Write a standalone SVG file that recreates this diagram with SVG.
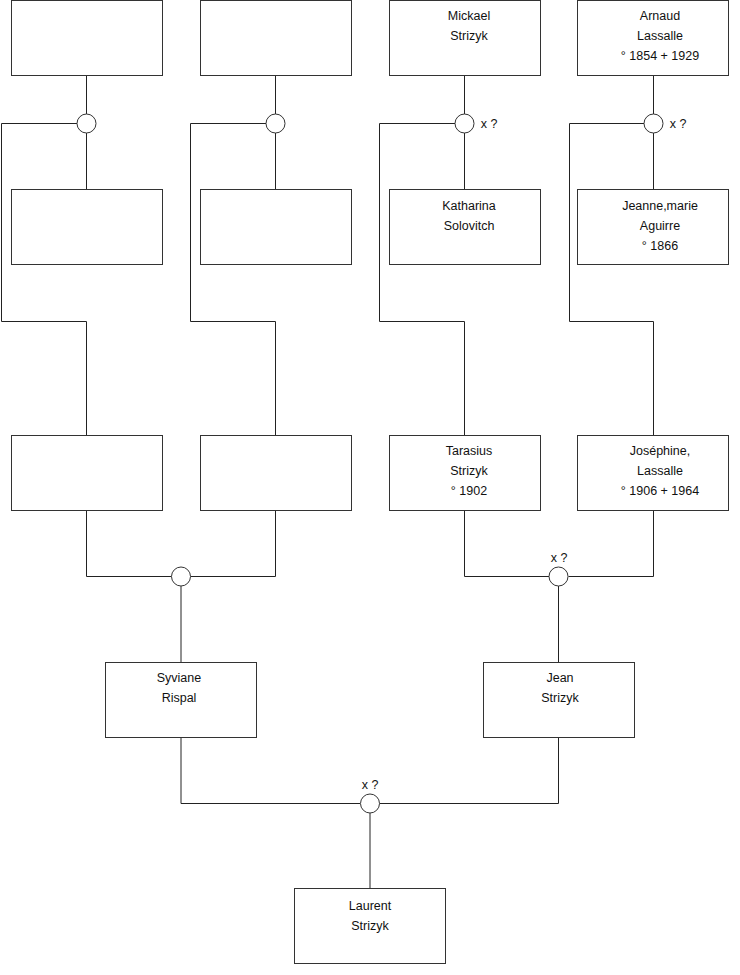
<svg xmlns="http://www.w3.org/2000/svg" width="740" height="975" viewBox="0 0 740 975">
<style>
.box{fill:#fff;stroke:#333;stroke-width:1}
.c{fill:#fff;stroke:#333;stroke-width:1}
.ln{fill:none;stroke:#222;stroke-width:1}
text{font-family:"Liberation Sans",Arial,sans-serif;font-size:12.5px;fill:#111;text-anchor:middle}
</style>
<rect width="740" height="975" fill="#fff"/>
<g id="connectors">
<path class="ln" d="M86.5,76 V114.5 M86.5,133 V189.5 M77,123.5 H1.5 V321.5 H86.5 V435.5"/>
<path class="ln" d="M275.5,76 V114.5 M275.5,133 V189.5 M266,123.5 H190.5 V321.5 H275.5 V435.5"/>
<path class="ln" d="M464.5,76 V114.5 M464.5,133 V189.5 M455,123.5 H379.5 V321.5 H464.5 V435.5"/>
<path class="ln" d="M653.5,76 V114.5 M653.5,133 V189.5 M644,123.5 H569.5 V321.5 H653.5 V435.5"/>
<path class="ln" d="M86.5,510 V576.5 H171.5 M190.5,576.5 H275.5 V510 M181,586 V662.5"/>
<path class="ln" d="M464.5,510 V576.5 H549 M568.5,576.5 H653.5 V510 M558.5,586 V662.5"/>
<path class="ln" d="M181,737 V803.5 H360 M379.5,803.5 H558.5 V737 M370,813 V888.5"/>
</g>
<g id="marriages">
<circle class="c" cx="86.5" cy="123.5" r="9.5"/>
<circle class="c" cx="275.5" cy="123.5" r="9.5"/>
<circle class="c" cx="464.5" cy="123.5" r="9.5"/>
<text x="489" y="128">x ?</text>
<circle class="c" cx="653.5" cy="123.5" r="9.5"/>
<text x="678" y="128">x ?</text>
<circle class="c" cx="181" cy="576.5" r="9.5"/>
<circle class="c" cx="558.5" cy="576.5" r="9.5"/>
<text x="559" y="562">x ?</text>
<circle class="c" cx="370" cy="803.5" r="9.5"/>
<text x="370" y="789">x ?</text>
</g>
<g id="n1"><rect class="box" x="11.5" y="0.5" width="151" height="75"/></g>
<g id="n2"><rect class="box" x="200.5" y="0.5" width="151" height="75"/></g>
<g id="n3"><rect class="box" x="389.5" y="0.5" width="151" height="75"/>
<text x="469" y="20">Mickael</text><text x="469" y="40">Strizyk</text></g>
<g id="n4"><rect class="box" x="577.5" y="0.5" width="151" height="75"/>
<text x="660" y="20">Arnaud</text><text x="660" y="40">Lassalle</text><text x="660" y="60">° 1854 + 1929</text></g>
<g id="n5"><rect class="box" x="11.5" y="189.5" width="151" height="75"/></g>
<g id="n6"><rect class="box" x="200.5" y="189.5" width="151" height="75"/></g>
<g id="n7"><rect class="box" x="389.5" y="189.5" width="151" height="75"/>
<text x="469" y="210">Katharina</text><text x="469" y="230">Solovitch</text></g>
<g id="n8"><rect class="box" x="577.5" y="189.5" width="151" height="75"/>
<text x="660" y="210">Jeanne,marie</text><text x="660" y="230">Aguirre</text><text x="660" y="250">° 1866</text></g>
<g id="n9"><rect class="box" x="11.5" y="435.5" width="151" height="75"/></g>
<g id="n10"><rect class="box" x="200.5" y="435.5" width="151" height="75"/></g>
<g id="n11"><rect class="box" x="389.5" y="435.5" width="151" height="75"/>
<text x="469" y="455">Tarasius</text><text x="469" y="475">Strizyk</text><text x="469" y="495">° 1902</text></g>
<g id="n12"><rect class="box" x="577.5" y="435.5" width="151" height="75"/>
<text x="660" y="455">Joséphine,</text><text x="660" y="475">Lassalle</text><text x="660" y="495">° 1906 + 1964</text></g>
<g id="n13"><rect class="box" x="105.5" y="662.5" width="151" height="75"/>
<text x="179" y="682">Syviane</text><text x="179" y="702">Rispal</text></g>
<g id="n14"><rect class="box" x="483.5" y="662.5" width="151" height="75"/>
<text x="560" y="682">Jean</text><text x="560" y="702">Strizyk</text></g>
<g id="n15"><rect class="box" x="294.5" y="888.5" width="151" height="75"/>
<text x="370" y="910">Laurent</text><text x="370" y="930">Strizyk</text></g>
</svg>
